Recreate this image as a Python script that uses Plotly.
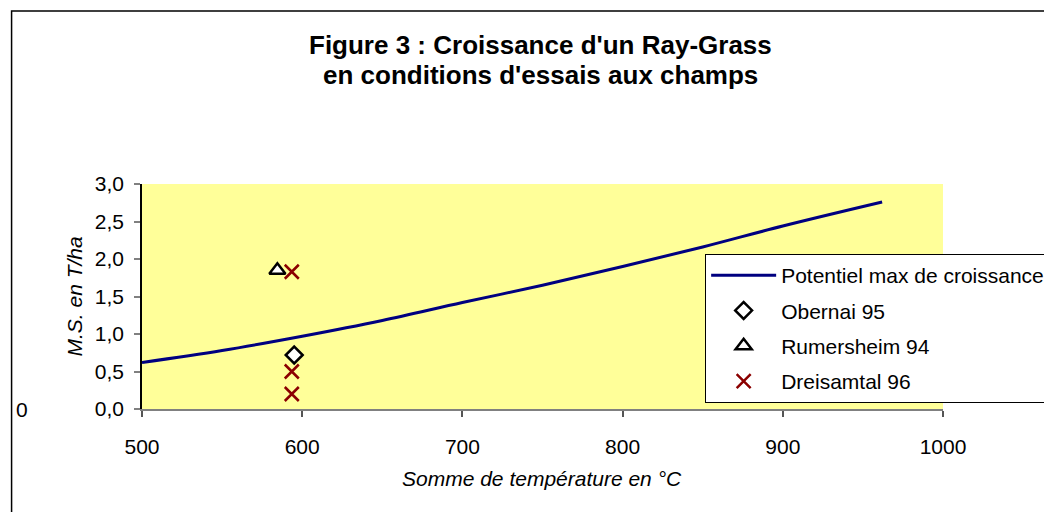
import plotly.graph_objects as go

# Data
pot_x = [500, 550, 600, 650, 700, 750, 800, 850, 900, 962]
pot_y = [0.62, 0.78, 0.97, 1.18, 1.42, 1.65, 1.90, 2.16, 2.44, 2.76]

obernai_x = [595]
obernai_y = [0.72]

rumersheim_x = [584.5]
rumersheim_y = [1.85]

dreisamtal_x = [593.5, 593.5, 593.5]
dreisamtal_y = [1.83, 0.50, 0.20]

x_ticks = [500, 600, 700, 800, 900, 1000]
y_ticks = [0.0, 0.5, 1.0, 1.5, 2.0, 2.5, 3.0]
y_tick_labels = ["0,0", "0,5", "1,0", "1,5", "2,0", "2,5", "3,0"]

FONT = "Arial, Liberation Sans, sans-serif"

fig = go.Figure()
fig.add_trace(go.Scatter(x=pot_x, y=pot_y, mode="lines", name="Potentiel max de croissance",
                         line=dict(color="#000080", width=3, shape="spline"),
                         legendgroup="a"))
fig.add_trace(go.Scatter(x=obernai_x, y=obernai_y, mode="markers", name="Obernai 95",
                         marker=dict(symbol="diamond", size=13, color="white",
                                     line=dict(color="black", width=2.5)),
                         legendgroup="b"))
fig.add_trace(go.Scatter(x=rumersheim_x, y=rumersheim_y, mode="markers", name="Rumersheim 94",
                         marker=dict(symbol="triangle-up", size=14, color="white",
                                     line=dict(color="black", width=2.5)),
                         legendgroup="c"))
fig.add_trace(go.Scatter(x=dreisamtal_x, y=dreisamtal_y, mode="markers", name="Dreisamtal 96",
                         marker=dict(symbol="x-thin-open", size=14, color="#8B0000",
                                     line=dict(color="#8B0000", width=2.5)),
                         legendgroup="d"))

# page body has an 8px margin: work in screen pixels, then shift
OFF = 8
L, R, T, B = 141.5 - OFF, 943 - OFF, 184 - OFF, 409 - OFF
W, H = 1052 - OFF, 512 - OFF
pw, ph = R - L, B - T

def px(xp):
    return (xp - OFF - L) / pw

def py(yp):
    return (B - (yp - OFF)) / ph

fig.update_layout(
    width=W, height=H,
    margin=dict(l=L, r=W - R, t=T, b=H - B, pad=0, autoexpand=False),
    paper_bgcolor="white",
    plot_bgcolor="#FFFF99",
    font=dict(family=FONT, size=21, color="black"),
    showlegend=True,
    legend=dict(x=px(705), y=py(254), xanchor="left", yanchor="top",
                bgcolor="white", bordercolor="black", borderwidth=1,
                font=dict(size=21), tracegroupgap=5, traceorder="grouped",
                itemwidth=65),
    xaxis=dict(range=[500, 1000], tickvals=x_ticks, showgrid=False, zeroline=False,
               showline=True, linecolor="#808080", linewidth=2,
               ticks="outside", ticklen=6, tickcolor="#555555", tickwidth=1.5,
               ticklabelstandoff=12, tickfont=dict(size=21)),
    yaxis=dict(range=[0, 3], tickvals=y_ticks, ticktext=y_tick_labels, showgrid=False,
               zeroline=False, showline=True, linecolor="black", linewidth=1.5,
               ticks="outside", ticklen=6, tickcolor="#808080", tickwidth=1.5,
               ticklabelstandoff=6, tickfont=dict(size=21)),
    shapes=[dict(type="rect", xref="paper", yref="paper",
                 x0=px(11), x1=px(1100), y0=py(560), y1=py(11),
                 line=dict(color="black", width=1.5), fillcolor="rgba(0,0,0,0)", layer="below")],
    annotations=[
        dict(text="<b>Figure 3 : Croissance d'un Ray-Grass</b>", xref="paper", yref="paper",
             x=px(540), y=py(45), xanchor="center", yanchor="middle", showarrow=False,
             font=dict(size=26)),
        dict(text="<b>en conditions d'essais aux champs</b>", xref="paper", yref="paper",
             x=px(540), y=py(75), xanchor="center", yanchor="middle", showarrow=False,
             font=dict(size=26)),
        dict(text="<i>Somme de température en °C</i>", xref="paper", yref="paper",
             x=px(542), y=py(478), xanchor="center", yanchor="middle", showarrow=False,
             font=dict(size=21)),
        dict(text="<i>M.S. en T/ha</i>", xref="paper", yref="paper",
             x=px(73), y=py(297), xanchor="center", yanchor="middle", showarrow=False,
             textangle=-90, font=dict(size=21)),
        dict(text="0", xref="paper", yref="y", x=px(13), y=0, xanchor="left",
             yanchor="middle", showarrow=False, font=dict(size=21)),
    ],
)

fig.write_html("out.html")
